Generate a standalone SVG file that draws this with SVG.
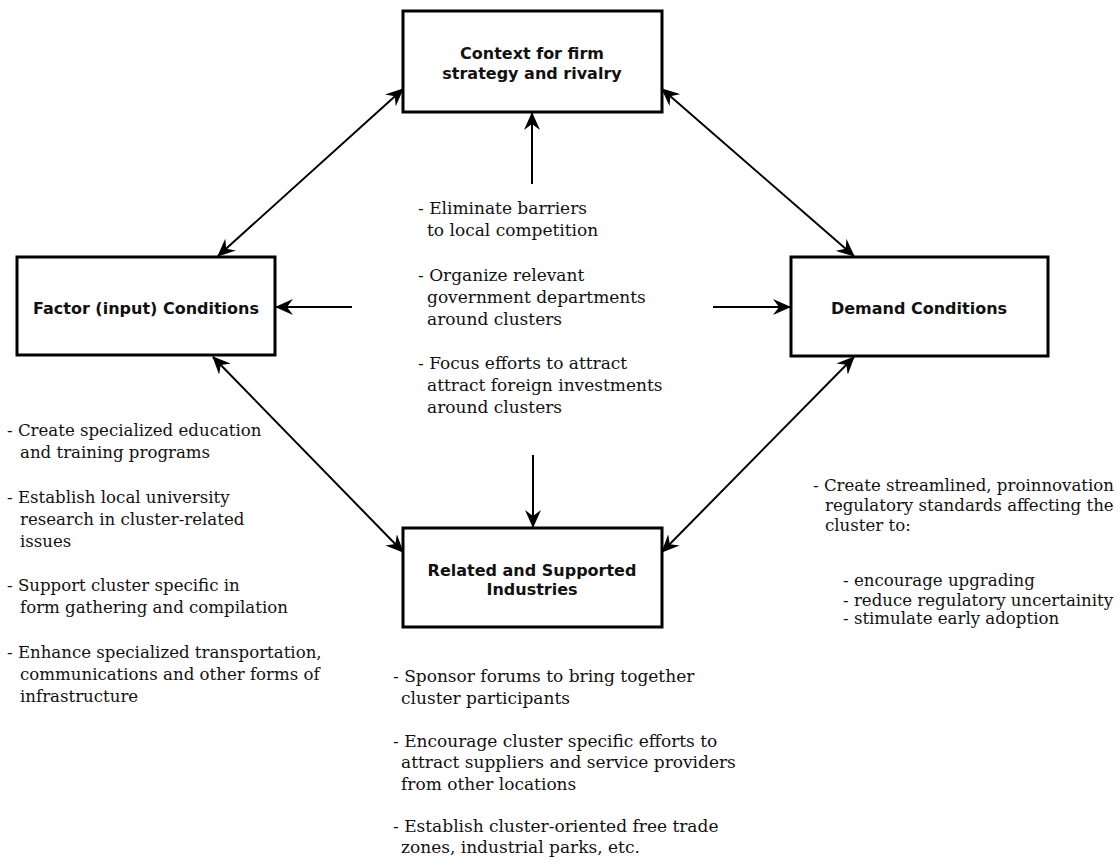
<svg xmlns="http://www.w3.org/2000/svg" width="1120" height="865" viewBox="0 0 1120 865">
  <style>
    .box { fill: #fff; stroke: #000; stroke-width: 3; }
    .title { font-family: "DejaVu Sans", Verdana, sans-serif; font-weight: bold; font-size: 16px; fill: #111; text-anchor: middle; }
    .note { font-family: "DejaVu Serif", "Liberation Serif", serif; font-size: 17px; fill: #111; }
    .note.tight { font-size: 16.6px; }
    .link { stroke: #000; stroke-width: 2; fill: none; }
  </style>
  <defs>
    <marker id="head" viewBox="0 0 18 16" refX="17" refY="8" markerWidth="18" markerHeight="16" markerUnits="userSpaceOnUse" orient="auto-start-reverse">
      <path d="M0,0 L18,8 L0,16 L6,8 z" fill="#000"/>
    </marker>
  </defs>

  <rect width="1120" height="865" fill="#fff"/>

  <!-- connectors -->
  <g id="connectors">
    <line class="link" x1="218" y1="256" x2="403" y2="89" marker-start="url(#head)" marker-end="url(#head)"/>
    <line class="link" x1="662" y1="89" x2="854" y2="256" marker-start="url(#head)" marker-end="url(#head)"/>
    <line class="link" x1="213" y1="357" x2="403" y2="552" marker-start="url(#head)" marker-end="url(#head)"/>
    <line class="link" x1="854" y1="357" x2="662" y2="552" marker-start="url(#head)" marker-end="url(#head)"/>
    <line class="link" x1="532" y1="184" x2="532" y2="113" marker-end="url(#head)"/>
    <line class="link" x1="533" y1="455" x2="533" y2="527" marker-end="url(#head)"/>
    <line class="link" x1="352" y1="307" x2="276" y2="307" marker-end="url(#head)"/>
    <line class="link" x1="713" y1="307" x2="790" y2="307" marker-end="url(#head)"/>
  </g>

  <!-- diamond nodes -->
  <g id="node-context">
    <rect class="box" x="403" y="11" width="259" height="101"/>
    <text class="title" x="532" y="59">Context for firm</text>
    <text class="title" x="532" y="79">strategy and rivalry</text>
  </g>
  <g id="node-factor">
    <rect class="box" x="17" y="257" width="258" height="98"/>
    <text class="title" x="146" y="314">Factor (input) Conditions</text>
  </g>
  <g id="node-demand">
    <rect class="box" x="791" y="257" width="257" height="99"/>
    <text class="title" x="919" y="314">Demand Conditions</text>
  </g>
  <g id="node-related">
    <rect class="box" x="403" y="528" width="259" height="99"/>
    <text class="title" x="532" y="576">Related and Supported</text>
    <text class="title" x="532" y="595">Industries</text>
  </g>

  <!-- policy notes -->
  <g id="notes-context" class="note">
    <text x="418" y="214">- Eliminate barriers</text>
    <text x="427" y="236">to local competition</text>
    <text x="418" y="281">- Organize relevant</text>
    <text x="427" y="303">government departments</text>
    <text x="427" y="325">around clusters</text>
    <text x="418" y="369">- Focus efforts to attract</text>
    <text x="427" y="391">attract foreign investments</text>
    <text x="427" y="413">around clusters</text>
  </g>
  <g id="notes-factor" class="note tight">
    <text x="7" y="436">- Create specialized education</text>
    <text x="20" y="458">and training programs</text>
    <text x="7" y="503">- Establish local university</text>
    <text x="20" y="525">research in cluster-related</text>
    <text x="20" y="547">issues</text>
    <text x="7" y="591">- Support cluster specific in</text>
    <text x="20" y="613">form gathering and compilation</text>
    <text x="7" y="658">- Enhance specialized transportation,</text>
    <text x="20" y="680">communications and other forms of</text>
    <text x="20" y="702">infrastructure</text>
  </g>
  <g id="notes-demand" class="note tight">
    <text x="813" y="491">- Create streamlined, proinnovation</text>
    <text x="825" y="511">regulatory standards affecting the</text>
    <text x="825" y="531">cluster to:</text>
    <text x="843" y="586">- encourage upgrading</text>
    <text x="843" y="606">- reduce regulatory uncertainity</text>
    <text x="843" y="624">- stimulate early adoption</text>
  </g>
  <g id="notes-related" class="note">
    <text x="393" y="682">- Sponsor forums to bring together</text>
    <text x="401" y="704">cluster participants</text>
    <text x="393" y="747">- Encourage cluster specific efforts to</text>
    <text x="401" y="768">attract suppliers and service providers</text>
    <text x="401" y="790">from other locations</text>
    <text x="393" y="832">- Establish cluster-oriented free trade</text>
    <text x="401" y="853">zones, industrial parks, etc.</text>
  </g>
</svg>
